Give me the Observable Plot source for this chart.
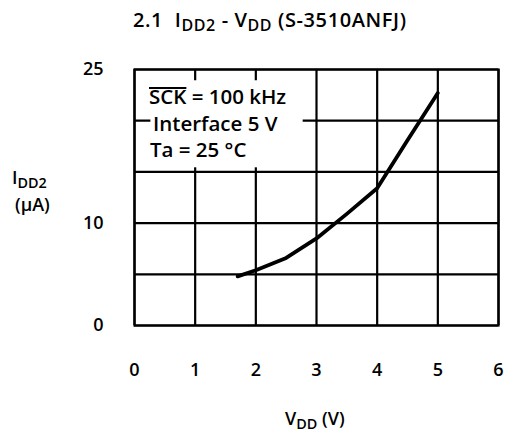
<!DOCTYPE html>
<html>
<head>
<meta charset="utf-8">
<script src="https://cdn.jsdelivr.net/npm/d3@7"></script>
<script src="https://cdn.jsdelivr.net/npm/@observablehq/plot@0.6"></script>
<style>
  html, body { margin: 0; padding: 0; background: #fff; }
  svg { display: block; }
</style>
</head>
<body>
<div id="chart"></div>
<script>
// Data
const vdd  = [1.7, 2.0, 2.5, 3.0, 3.5, 4.0, 4.5, 5.0];   // V
const idd2 = [4.8, 5.4, 6.6, 8.5, 10.9, 13.4, 18.1, 22.7]; // µA
const xTicks = [0, 1, 2, 3, 4, 5, 6];
const yTicks = [0, 10, 25];
const yGrid = [0, 5, 10, 15, 20, 25];
const legendLines = ["SCK = 100 kHz", "Interface 5 V", "Ta = 25 °C"];

const curve = vdd.map((v, i) => ({v, i: idd2[i]}));
const font = "'Open Sans', sans-serif";

const plot = Plot.plot({
  width: 507,
  height: 441,
  marginLeft: 134,
  marginRight: 9,
  marginTop: 69,
  marginBottom: 116,
  style: {fontFamily: font, fontSize: "18px", fontWeight: 600, color: "#000", background: "#fff"},
  x: {domain: [0, 6]},
  y: {domain: [0, 25]},
  marks: [
    Plot.ruleX(xTicks, {stroke: "#000", strokeWidth: 2.2}),
    Plot.ruleY(yGrid, {stroke: "#000", strokeWidth: 2.2}),
    Plot.frame({stroke: "#000", strokeWidth: 2.2}),
    Plot.rect([{}], {x1: 0.27, x2: 2.78, y1: 15.4, y2: 23.9, fill: "#fff"}),
    Plot.line(curve, {x: "v", y: "i", stroke: "#000", strokeWidth: 3.8, strokeLinejoin: "round", strokeLinecap: "round"}),
    Plot.axisX({ticks: xTicks, tickSize: 0, tickPadding: 38, label: null, tickFormat: d => d}),
    Plot.axisY({ticks: yTicks, tickSize: 0, tickPadding: 31, label: null, tickFormat: d => d})
  ]
});

document.getElementById("chart").appendChild(plot);

const svg = d3.select(plot);
const g = svg.append("g")
  .attr("font-family", font)
  .attr("font-weight", 600)
  .attr("text-anchor", "start")
  .attr("fill", "#000");

// helper for text with subscripts: parts = [[text, isSub], ...]
function richText(x, y, parts, size) {
  const t = g.append("text").attr("x", x).attr("y", y).attr("font-size", size);
  let sub = false;
  for (const [s, isSub] of parts) {
    const ts = t.append("tspan").text(s);
    if (isSub) {
      ts.attr("font-size", size * 0.8);
      if (!sub) { ts.attr("dy", size * 0.22); sub = true; }
    } else if (sub) { ts.attr("dy", -size * 0.22); sub = false; }
  }
  return t;
}

// Title
richText(133, 27, [["2.1  I", false], ["DD2", true], [" - V", false], ["DD", true], [" (S-3510ANFJ)", false]], 20)
  .attr("letter-spacing", 0.6);

// Y label
richText(12, 184, [["I", false], ["DD2", true]], 18);
g.append("text").attr("x", 15).attr("y", 211).attr("font-size", 18).text("(μA)");

// X label
richText(285, 425, [["V", false], ["DD", true], [" (V)", false]], 18);

// Legend text
const legSize = 20.5;
const lt = g.append("g").attr("font-size", legSize);
const l0 = lt.append("text").attr("x", 149).attr("y", 104).text(legendLines[0]);
lt.append("text").attr("x", 153).attr("y", 131).text(legendLines[1]);
lt.append("text").attr("x", 150).attr("y", 157).text(legendLines[2]);
// overline over "SCK" (active-low signal)
let sckW = 38;
try { sckW = l0.node().getSubStringLength(0, 3); } catch (e) {}
lt.append("line")
  .attr("x1", 149).attr("x2", 149 + sckW)
  .attr("y1", 104 - legSize * 0.78).attr("y2", 104 - legSize * 0.78)
  .attr("stroke", "#000").attr("stroke-width", 1.8);
</script>
</body>
</html>
